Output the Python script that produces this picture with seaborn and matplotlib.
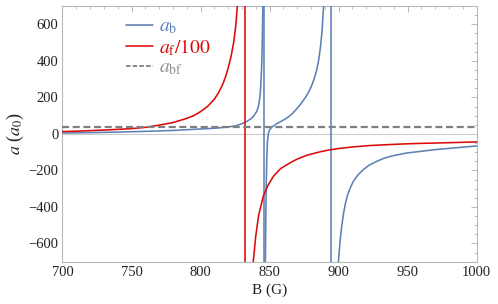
import numpy as np
import pandas as pd
import matplotlib
matplotlib.use("Agg")
import matplotlib.pyplot as plt
import seaborn as sns
from matplotlib.lines import Line2D
from matplotlib.ticker import MultipleLocator

# ---------------- data ----------------
# a_b (boson), three branches separated by two resonances
b_left_B = [700, 720, 740, 760, 780, 800, 810, 819, 826, 832, 836, 838.2, 840.5, 841.9, 843,
            843.6, 844.2, 844.6, 845.0, 845.2, 845.5]
b_left_a = [5, 7, 10, 14, 19, 27, 31, 37, 45, 62, 80, 95, 120, 148, 200,
            260, 350, 450, 620, 750, 1000]
b_mid_B = [846.8, 847.0, 847.3, 847.6, 848.0, 848.5, 849.2, 850, 851, 852.5, 855, 858, 861, 864,
           867, 870, 873, 876, 878, 880, 882, 884, 885.5, 886.8, 888, 889.2, 890]
b_mid_a = [-1000, -700, -450, -280, -130, -40, 5, 22, 32, 42, 55, 67, 80, 95,
           115, 140, 168, 200, 225, 255, 295, 345, 400, 470, 560, 700, 820]
b_right_B = [898.8, 899.9, 901.1, 902.3, 903.5, 905, 906.5, 908.5, 910.7, 914, 918, 922, 927.7,
             933, 939.7, 949, 959, 970, 983.2, 1000]
b_right_a = [-900, -700, -587, -505, -440, -380, -335, -295, -260, -225, -195, -172, -150,
             -133, -119, -105, -96, -86, -77, -66]
b_poles = [845.8, 894.3]

# a_f / 100 (fermion), two branches around one resonance
f_left_B = [700, 710, 720, 730, 740, 750, 760, 770, 780, 790, 795, 800, 805, 810, 813, 816,
            818, 820, 822, 824, 825.5, 826.7, 828]
f_left_a = [13, 15, 18, 21, 25, 29, 36, 48, 62, 85, 100, 122, 150, 190, 225, 270,
            310, 360, 420, 500, 590, 700, 900]
f_right_B = [836.8, 838.2, 840, 842, 845.5, 849, 852.8, 858, 864.9, 870, 877, 886.6, 893.8,
             900, 910.7, 922, 934.9, 947, 959, 980, 1000]
f_right_a = [-900, -700, -560, -450, -340, -280, -232, -190, -158, -138, -117, -98, -87,
             -80, -71, -64, -59, -55, -52, -48, -44]
f_poles = [832.2]

# a_bf constant
a_bf = 38

x_ticks = [700, 750, 800, 850, 900, 950, 1000]
y_ticks = [-600, -400, -200, 0, 200, 400, 600]

# ---------------- style ----------------
sns.set_theme(style="white")
plt.rcParams["font.family"] = ["Liberation Serif", "DejaVu Serif"]
plt.rcParams["mathtext.fontset"] = "stix"
plt.rcParams["axes.unicode_minus"] = True

BLUE = "#5e81b5"
RED = "#dd0a0a"
GRAY = "#808080"
FRAME = "#b8b8b8"

fig = plt.figure(figsize=(4.98, 3.04), dpi=100)
ax = fig.add_subplot(111)
fig.subplots_adjust(left=0.1255, right=0.957, top=0.980, bottom=0.139)

lw = 1.15
ax.axhline(0, color="#cccccc", lw=0.8, zorder=1)

for Bs, As in [(b_left_B, b_left_a), (b_mid_B, b_mid_a), (b_right_B, b_right_a)]:
    sns.lineplot(x=Bs, y=As, ax=ax, color=BLUE, lw=lw, sort=False, estimator=None, zorder=3)
for p in b_poles:
    ax.axvline(p, color=BLUE, lw=lw, zorder=3)

for Bs, As in [(f_left_B, f_left_a), (f_right_B, f_right_a)]:
    sns.lineplot(x=Bs, y=As, ax=ax, color=RED, lw=lw, sort=False, estimator=None, zorder=3)
for p in f_poles:
    ax.axvline(p, color=RED, lw=lw, zorder=3)

ax.axhline(a_bf, color=GRAY, lw=1.6, dashes=(3.2, 1.6), zorder=4)

ax.set_xlim(700, 1000)
ax.set_ylim(-700, 700)
ax.set_xticks(x_ticks)
ax.set_yticks(y_ticks)
ax.xaxis.set_minor_locator(MultipleLocator(10))
ax.yaxis.set_minor_locator(MultipleLocator(50))
ax.tick_params(which="both", direction="in", top=True, right=True, color=FRAME,
               labelsize=10.5, labelcolor="#222222", pad=3)
ax.tick_params(which="major", length=4, width=0.7)
ax.tick_params(which="minor", length=2, width=0.6)
for s in ax.spines.values():
    s.set_color(FRAME)
    s.set_linewidth(0.8)

ax.set_xlabel("B (G)", fontsize=11, color="#222222", labelpad=3)
ax.set_ylabel(r"$a$ ($a_0$)", fontsize=13, color="#222222", labelpad=2)

handles = [Line2D([], [], color=BLUE, lw=lw),
           Line2D([], [], color=RED, lw=lw),
           Line2D([], [], color=GRAY, lw=1.3, dashes=(2.5, 1.2))]
labels = [r"$a_{\mathrm{b}}$", r"$a_{\mathrm{f}}\mathrm{/100}$", r"$a_{\mathrm{bf}}$"]
leg = ax.legend(handles, labels, loc="upper left", bbox_to_anchor=(0.125, 1.0),
                frameon=False, fontsize=14, handlelength=1.4, handletextpad=0.3,
                labelspacing=0.05, borderaxespad=0.2)
for t, c in zip(leg.get_texts(), [BLUE, RED, "#909090"]):
    t.set_color(c)

fig.savefig("out.png", dpi=100)
